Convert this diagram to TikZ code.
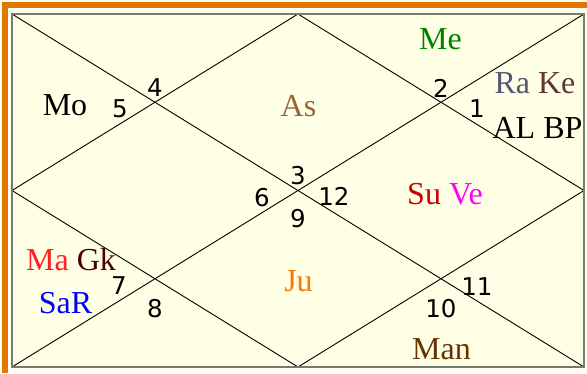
\documentclass[tikz,border=0pt]{standalone}
\usepackage{fontspec}
\setmainfont{Liberation Serif}
\newfontfamily\numfont{DejaVu Sans}
\definecolor{bgout}{HTML}{FFFFF2}
\definecolor{bgin}{HTML}{FFFFE6}
\definecolor{frameor}{HTML}{E07800}
\definecolor{boxgray}{HTML}{7A7A6A}
\definecolor{cMe}{HTML}{008000}
\definecolor{cRa}{HTML}{555577}
\definecolor{cKe}{HTML}{663333}
\definecolor{cAs}{HTML}{996633}
\definecolor{cSu}{HTML}{CC0000}
\definecolor{cVe}{HTML}{FF00FF}
\definecolor{cMa}{HTML}{FF2020}
\definecolor{cGk}{HTML}{4D0000}
\definecolor{cSaR}{HTML}{0000FF}
\definecolor{cJu}{HTML}{FF7700}
\definecolor{cMan}{HTML}{663300}
\begin{document}
\begin{tikzpicture}[x=1pt,y=-1pt,
  planet/.style={anchor=base, inner sep=0pt, font=\fontsize{32}{32}\selectfont},
  house/.style={anchor=base, inner sep=0pt, font=\numfont\fontsize{24.5}{24.5}\selectfont},
  chartline/.style={black, line width=0.9pt}]
\fill[bgout] (0,0) rectangle (587,373);
\useasboundingbox (0,0) rectangle (587,373);
% orange frame (top and left)
\fill[frameor] (2,2) rectangle (587,7.5);
\fill[frameor] (2,2) rectangle (7.5,373);
% chart box
\coordinate (tl) at (12,14);
\coordinate (tr) at (584,14);
\coordinate (br) at (584,367);
\coordinate (bl) at (12,367);
\coordinate (tm) at (298,14);
\coordinate (rm) at (584,190.5);
\coordinate (bm) at (298,367);
\coordinate (lm) at (12,190.5);
\fill[bgin] (tl) rectangle (br);
\draw[chartline] (tl) -- (br);
\draw[chartline] (tr) -- (bl);
\draw[chartline] (tm) -- (rm) -- (bm) -- (lm) -- cycle;
\draw[boxgray, line width=1.6pt] (tl) rectangle (br);
% planets
\node[planet, text=cMe] (me) at (440.5,49) {Me};
\node[planet] (rake) at (535,93) {{\color{cRa}Ra} {\color{cKe}Ke}};
\node[planet, text=black] (albp) at (537.5,138) {AL BP};
\node[planet, text=black] (mo) at (65,115) {Mo};
\node[planet, text=cAs] (as) at (298.5,116) {As};
\node[planet] (suve) at (445,204) {{\color{cSu}Su} {\color{cVe}Ve}};
\node[planet] (magk) at (71,270) {{\color{cMa}Ma} {\color{cGk}Gk}};
\node[planet, text=cSaR] (sar) at (65.5,313) {SaR};
\node[planet, text=cJu] (ju) at (298.5,291) {Ju};
\node[planet, text=cMan] (man) at (441.5,359) {Man};
% house numbers
\node[house] (h1) at (477,117) {1};
\node[house] (h2) at (441,97) {2};
\node[house] (h3) at (298,184) {3};
\node[house] (h4) at (155,96) {4};
\node[house] (h5) at (120,117) {5};
\node[house] (h6) at (262,206) {6};
\node[house] (h7) at (119,294) {7};
\node[house] (h8) at (155,317) {8};
\node[house] (h9) at (298,227) {9};
\node[house] (h10) at (441,317) {10};
\node[house] (h11) at (477,295) {11};
\node[house] (h12) at (334,205) {12};
\end{tikzpicture}
\end{document}
